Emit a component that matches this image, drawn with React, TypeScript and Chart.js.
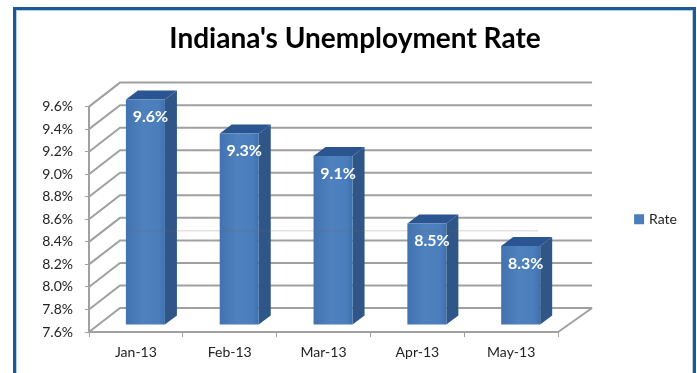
import React, { useEffect, useRef } from "react";
import { Chart, registerables } from "chart.js";

Chart.register(...registerables);

const months = ["Jan-13", "Feb-13", "Mar-13", "Apr-13", "May-13"];
const rates = [9.6, 9.3, 9.1, 8.5, 8.3];
const seriesName = "Rate";
const chartTitle = "Indiana's Unemployment Rate";

const FONT = "Lato, 'Open Sans', sans-serif";
const GRID = "#a0a0a0";

// Pseudo-3D box geometry, in canvas pixels.
const WALL_DX = 31;
const WALL_DX_RIGHT = 34;
const WALL_DY = -24;
const BAR_DX = 9.5;
const BAR_DY = -7;
const DEPTH_DX = 12;
const DEPTH_DY = -9;

const line = (ctx: CanvasRenderingContext2D, pts: number[][]) => {
  ctx.beginPath();
  pts.forEach(([x, y], i) => (i ? ctx.lineTo(x, y) : ctx.moveTo(x, y)));
  ctx.stroke();
};

const fillPoly = (ctx: CanvasRenderingContext2D, pts: number[][], color: string) => {
  ctx.fillStyle = color;
  ctx.beginPath();
  pts.forEach(([x, y], i) => (i ? ctx.lineTo(x, y) : ctx.moveTo(x, y)));
  ctx.closePath();
  ctx.fill();
};

// Outer frame, drawn behind everything.
const framePlugin = {
  id: "frame",
  beforeDraw(chart: any) {
    const { ctx } = chart;
    ctx.save();
    ctx.strokeStyle = "#1c5a96";
    ctx.lineWidth = 3;
    ctx.strokeRect(14.5, 8.5, 680, 420);
    ctx.strokeStyle = "#b4cbe2";
    ctx.lineWidth = 1;
    ctx.strokeRect(16.5, 10.5, 676, 420);
    ctx.restore();
  },
};

// Back wall, side wall, floor and the extruded sides of each bar.
const box3dPlugin = {
  id: "box3d",
  beforeDatasetsDraw(chart: any) {
    const { ctx, scales } = chart;
    const { x: xs, y: ys } = scales;
    const left = xs.left;
    const right = xs.right;
    ctx.save();
    ctx.strokeStyle = GRID;
    ctx.lineWidth = 2;
    ys.ticks.forEach((t: any) => {
      const y = ys.getPixelForValue(t.value);
      line(ctx, [
        [left, y],
        [left + WALL_DX, y + WALL_DY],
        [right + WALL_DX_RIGHT, y + WALL_DY],
      ]);
    });
    const base = ys.bottom;
    line(ctx, [
      [right, base],
      [right + WALL_DX_RIGHT, base + WALL_DY],
    ]);
    ctx.restore();

    ctx.save();
    ctx.translate(BAR_DX, BAR_DY);
    chart.getDatasetMeta(0).data.forEach((bar: any) => {
      const { x, y, base: b, width } = bar.getProps(["x", "y", "base", "width"], true);
      const l = x - width / 2;
      const r = x + width / 2;
      fillPoly(
        ctx,
        [
          [r, y],
          [r + DEPTH_DX, y + DEPTH_DY],
          [r + DEPTH_DX, b + DEPTH_DY],
          [r, b],
        ],
        "#2f5687",
      );
      fillPoly(
        ctx,
        [
          [l, y],
          [l + DEPTH_DX, y + DEPTH_DY],
          [r + DEPTH_DX, y + DEPTH_DY],
          [r, y],
        ],
        "#2b5590",
      );
    });
  },
  afterDatasetsDraw(chart: any) {
    const { ctx, scales } = chart;
    ctx.restore();

    // Thin seam crossing the plot.
    ctx.save();
    ctx.strokeStyle = "rgba(120,105,95,0.3)";
    ctx.lineWidth = 1;
    const seam = scales.y.getPixelForValue(8.4) - 11;
    line(ctx, [
      [126, seam],
      [scales.x.right - 20, seam],
    ]);

    // Value labels on the bars.
    ctx.fillStyle = "#ffffff";
    ctx.font = `bold 16px ${FONT}`;
    ctx.textAlign = "center";
    ctx.textBaseline = "middle";
    chart.getDatasetMeta(0).data.forEach((bar: any, i: number) => {
      const { x, y } = bar.getProps(["x", "y"], true);
      ctx.fillText(`${rates[i].toFixed(1)}%`, x + BAR_DX + 5, y + BAR_DY + 17.5);
    });
    ctx.restore();
  },
};

// Front face shading: slightly darker towards the edges.
const barFace = (context: any) => {
  const { chart, dataIndex } = context;
  const xs = chart.scales.x;
  if (!xs || dataIndex === undefined) return "#4a7ebb";
  const half = (xs.width / months.length) * 0.416 * 0.5;
  const cx = xs.getPixelForValue(dataIndex);
  const g = chart.ctx.createLinearGradient(cx - half, 0, cx + half, 0);
  g.addColorStop(0, "#4273b0");
  g.addColorStop(0.45, "#4f81bf");
  g.addColorStop(0.85, "#4a7dbb");
  g.addColorStop(1, "#3f70ad");
  return g;
};

export default function App() {
  const ref = useRef<HTMLCanvasElement>(null);

  useEffect(() => {
    if (!ref.current) return;
    const chart = new Chart(ref.current, {
      type: "bar",
      data: {
        labels: months,
        datasets: [
          {
            label: seriesName,
            data: rates,
            base: 7.6,
            backgroundColor: barFace,
            borderWidth: 0,
            categoryPercentage: 1,
            barPercentage: 0.416,
            clip: false,
          } as any,
        ],
      },
      plugins: [framePlugin, box3dPlugin],
      options: {
        animation: false,
        responsive: false,
        layout: { padding: { left: 23, right: 10, top: 18, bottom: 0 } },
        plugins: {
          title: {
            display: true,
            text: chartTitle,
            color: "#000000",
            font: { family: FONT, size: 28, weight: "bold" },
            padding: { top: 4, bottom: 51 },
          },
          legend: {
            position: "right",
            fullSize: false,
            labels: {
              boxWidth: 6,
              boxHeight: 6,
              padding: 78,
              color: "#222222",
              generateLabels: () => [
                {
                  text: seriesName,
                  fillStyle: "#4a7ebb",
                  strokeStyle: "#4a7ebb",
                  lineWidth: 4,
                  fontColor: "#222222",
                  datasetIndex: 0,
                },
              ],
              font: { family: FONT, size: 14 },
            },
          },
          tooltip: { enabled: false },
        },
        scales: {
          x: {
            offset: true,
            afterFit: (s: any) => {
              s.height = 41;
            },
            border: { color: GRID, width: 2 },
            grid: { drawOnChartArea: false, drawTicks: true, tickLength: 5, color: GRID },
            ticks: { color: "#222222", font: { family: FONT, size: 14 }, padding: 7, maxRotation: 0 },
          },
          y: {
            min: 7.6,
            max: 9.6,
            afterFit: (s: any) => {
              s.width = 66;
            },
            border: { color: GRID, width: 2 },
            grid: { drawOnChartArea: false, drawTicks: true, tickLength: 4, color: GRID },
            ticks: {
              stepSize: 0.2,
              padding: 12,
              color: "#222222",
              font: { family: FONT, size: 14 },
              callback: (v: any) => `${Number(v).toFixed(1)}%`,
            },
          },
        },
      },
    });
    return () => chart.destroy();
  }, []);

  return (
    <div style={{ position: "absolute", left: 0, top: 0, width: 697, height: 373, background: "#fff" }}>
      <canvas ref={ref} width={697} height={373} style={{ display: "block" }} />
    </div>
  );
}
